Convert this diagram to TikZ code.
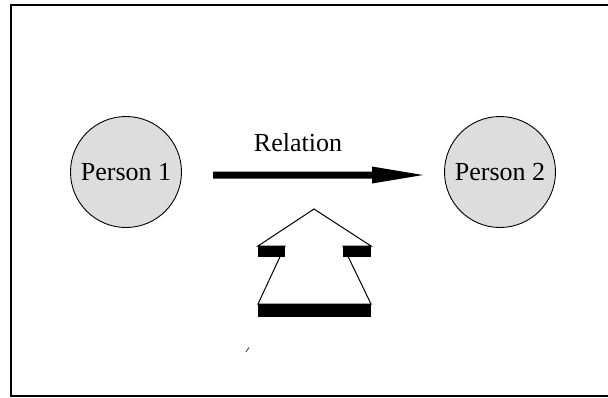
\documentclass[tikz,border=0pt]{standalone}
\usepackage{fontspec}
\setmainfont{Liberation Serif}
\begin{document}
\begin{tikzpicture}[x=1pt,y=-1pt,
  person/.style={circle,draw=black,line width=0.9pt,fill=personfill,minimum size=111pt,inner sep=0pt,font=\fontsize{26}{30}\selectfont},
  label/.style={font=\fontsize{26}{30}\selectfont,inner sep=0pt},
  outline/.style={draw=black,line width=1pt,line join=miter},
  bar/.style={fill=black}]
\definecolor{personfill}{HTML}{DDDDDD}
\useasboundingbox (0,0) rectangle (608,397);
% frame
\draw[line width=2pt] (608,5) -- (11,5) -- (11,396) -- (608,396);
% people
\node[person] (p1) at (126,172) {Person 1};
\node[person] (p2) at (500,172) {Person 2};
% relation arrow
\coordinate (rs) at (213,175);
\coordinate (re) at (423,175);
\fill (rs) ++(0,-3.5) -- ++(159,0) -- ++(0,-5) -- (re) -- (372,183.5) -- ++(0,-5) -- (213,178.5) -- cycle;
\node[label] (rel) at (298,143) {Relation};
% hollow upward arrow with black bars
\coordinate (tip) at (314,209);
\draw[outline,fill=white] (tip) -- (371,246) -- (343,246) -- (371,304) -- (258,304) -- (285,246) -- (258,246) -- cycle;
\fill[bar] (258,246) rectangle (285,257);
\fill[bar] (343,246) rectangle (371,257);
\fill[bar] (258,304) rectangle (371,317);
% small stray mark
\draw[gray!70!black,line width=1pt] (246,352) -- (249,347.5);
\end{tikzpicture}
\end{document}
